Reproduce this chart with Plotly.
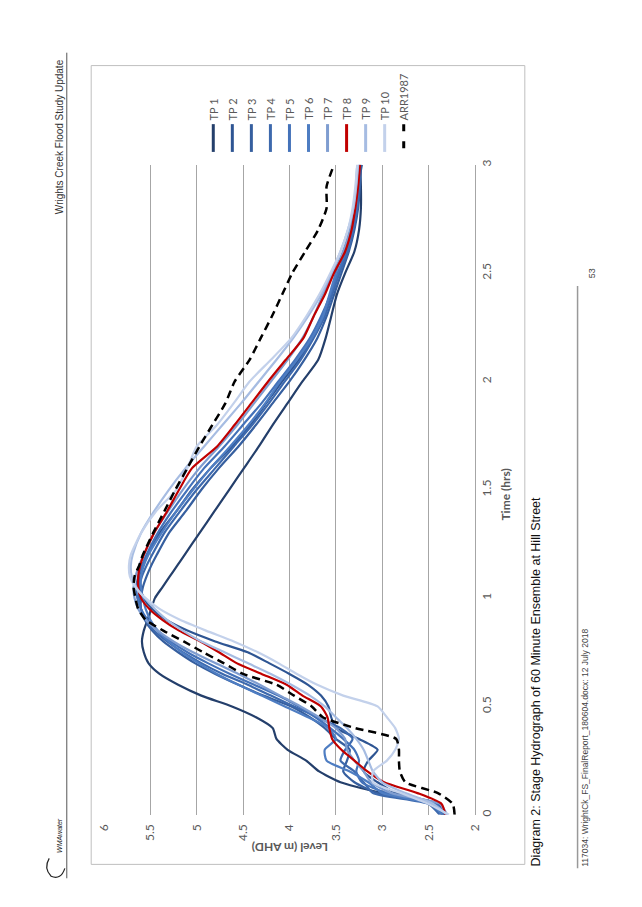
import plotly.graph_objects as go

# ---------------- data ----------------
time_hrs = [0, 0.05, 0.1, 0.15, 0.2, 0.25, 0.3, 0.35, 0.4, 0.45, 0.5, 0.55, 0.6, 0.65,
            0.7, 0.75, 0.8, 0.85, 0.9, 0.95, 1.0, 1.05, 1.1, 1.15, 1.2, 1.3, 1.4, 1.5,
            1.6, 1.7, 1.8, 1.9, 2.0, 2.1, 2.2, 2.3, 2.4, 2.5, 2.6, 2.7, 2.8, 2.9, 3.0]

tp1 = [2.36, 2.42, 3.00, 3.45, 3.68, 3.82, 4.02, 4.14, 4.18, 4.36, 4.62, 4.95, 5.20, 5.40,
       5.52, 5.57, 5.59, 5.57, 5.53, 5.49, 5.45, 5.37, 5.29, 5.21, 5.13, 4.97, 4.81, 4.65,
       4.49, 4.33, 4.18, 4.02, 3.86, 3.69, 3.61, 3.55, 3.49, 3.40, 3.30, 3.25, 3.23, 3.23, 3.24]
tp2 = [2.34, 2.40, 2.85, 3.05, 3.20, 3.15, 3.05, 3.25, 3.50, 3.55, 3.58, 3.66, 3.80, 4.00,
       4.22, 4.45, 4.80, 5.10, 5.33, 5.48, 5.57, 5.61, 5.62, 5.58, 5.53, 5.40, 5.22, 5.05,
       4.85, 4.62, 4.42, 4.25, 4.08, 3.90, 3.75, 3.64, 3.56, 3.47, 3.38, 3.34, 3.31, 3.26, 3.22]
tp3 = [2.33, 2.45, 3.05, 3.30, 3.42, 3.38, 3.35, 3.50, 3.62, 3.78, 3.98, 4.28, 4.55, 4.80,
       5.02, 5.20, 5.36, 5.48, 5.56, 5.60, 5.60, 5.58, 5.54, 5.49, 5.43, 5.30, 5.12, 4.95,
       4.76, 4.55, 4.36, 4.18, 4.00, 3.84, 3.70, 3.60, 3.52, 3.44, 3.36, 3.30, 3.26, 3.24, 3.23]
tp4 = [2.38, 2.50, 3.10, 3.20, 3.30, 3.45, 3.40, 3.32, 3.45, 3.70, 3.95, 4.20, 4.45, 4.72,
       4.95, 5.15, 5.32, 5.46, 5.55, 5.60, 5.62, 5.62, 5.59, 5.54, 5.48, 5.35, 5.18, 5.00,
       4.80, 4.60, 4.40, 4.22, 4.05, 3.88, 3.74, 3.62, 3.54, 3.46, 3.37, 3.31, 3.27, 3.25, 3.24]
tp5 = [2.32, 2.42, 2.95, 3.22, 3.28, 3.25, 3.30, 3.42, 3.56, 3.72, 3.90, 4.12, 4.38, 4.64,
       4.88, 5.10, 5.28, 5.42, 5.53, 5.60, 5.64, 5.65, 5.63, 5.59, 5.54, 5.42, 5.27, 5.10,
       4.92, 4.70, 4.50, 4.30, 4.12, 3.94, 3.78, 3.66, 3.56, 3.48, 3.39, 3.32, 3.28, 3.26, 3.25]
tp6 = [2.35, 2.48, 3.00, 3.15, 3.35, 3.60, 3.62, 3.50, 3.58, 3.80, 4.05, 4.30, 4.55, 4.78,
       4.98, 5.16, 5.30, 5.42, 5.50, 5.55, 5.58, 5.60, 5.60, 5.57, 5.52, 5.38, 5.22, 5.04,
       4.85, 4.64, 4.44, 4.26, 4.10, 3.92, 3.76, 3.64, 3.57, 3.50, 3.42, 3.34, 3.30, 3.28, 3.27]
tp7 = [2.30, 2.38, 2.90, 3.12, 3.20, 3.30, 3.38, 3.40, 3.50, 3.68, 3.88, 4.10, 4.32, 4.55,
       4.80, 5.04, 5.25, 5.42, 5.55, 5.63, 5.67, 5.68, 5.66, 5.62, 5.57, 5.46, 5.31, 5.15,
       4.97, 4.76, 4.56, 4.38, 4.20, 4.02, 3.86, 3.74, 3.64, 3.53, 3.42, 3.35, 3.30, 3.27, 3.25]
tp8 = [2.32, 2.36, 2.62, 2.98, 3.16, 3.30, 3.44, 3.54, 3.57, 3.59, 3.66, 3.86, 4.03, 4.30,
       4.57, 4.76, 4.96, 5.19, 5.37, 5.51, 5.60, 5.63, 5.63, 5.61, 5.57, 5.46, 5.32, 5.19,
       5.05, 4.78, 4.59, 4.41, 4.23, 4.04, 3.85, 3.74, 3.62, 3.52, 3.40, 3.33, 3.29, 3.26, 3.24]
tp9 = [2.30, 2.45, 2.75, 3.00, 3.10, 3.15, 3.20, 3.28, 3.38, 3.50, 3.62, 3.78, 3.98, 4.20,
       4.45, 4.70, 4.95, 5.15, 5.32, 5.45, 5.56, 5.65, 5.70, 5.71, 5.69, 5.60, 5.46, 5.30,
       5.12, 4.92, 4.72, 4.52, 4.33, 4.14, 3.96, 3.80, 3.66, 3.55, 3.45, 3.37, 3.31, 3.28, 3.26]
tp10 = [2.28, 2.50, 2.80, 3.10, 3.10, 2.95, 2.86, 2.82, 2.86, 2.95, 3.05, 3.42, 3.70, 3.92,
        4.12, 4.34, 4.60, 4.90, 5.18, 5.40, 5.55, 5.66, 5.72, 5.73, 5.71, 5.60, 5.44, 5.22,
        5.10, 5.00, 4.78, 4.60, 4.43, 4.20, 3.98, 3.82, 3.68, 3.56, 3.45, 3.37, 3.32, 3.29, 3.27]
arr1987 = [2.22, 2.24, 2.40, 2.75, 2.81, 2.82, 2.82, 2.85, 3.29, 3.64, 3.76, 3.95, 4.14, 4.50,
           4.71, 4.93, 5.14, 5.36, 5.55, 5.63, 5.66, 5.68, 5.67, 5.62, 5.58, 5.47, 5.35, 5.23,
           5.10, 4.97, 4.83, 4.69, 4.59, 4.43, 4.31, 4.19, 4.08, 3.97, 3.83, 3.69, 3.60, 3.60, 3.52]

series_names = ["TP 1", "TP 2", "TP 3", "TP 4", "TP 5", "TP 6", "TP 7", "TP 8", "TP 9", "TP 10"]
series_values = [tp1, tp2, tp3, tp4, tp5, tp6, tp7, tp8, tp9, tp10]
series_colors = ["#243f6b", "#2e5593", "#365f9f", "#3d69ad", "#4472b9", "#4e7dc2",
                 "#7f9dd0", "#c00000", "#a6bce2", "#c3d1eb"]

level_ticks = [2, 2.5, 3, 3.5, 4, 4.5, 5, 5.5, 6]
level_labels = ["2", "2.5", "3", "3.5", "4", "4.5", "5", "5.5", "6"]
time_ticks = [0, 0.5, 1, 1.5, 2, 2.5, 3]
time_labels = ["0", "0.5", "1", "1.5", "2", "2.5", "3"]

# ---------------- figure ----------------
W, H = 642, 907
def px(x):
    return x / W
def py(y):
    return 1 - y / H

fig = go.Figure()
for name, vals, col in zip(series_names, series_values, series_colors):
    fig.add_trace(go.Scatter(x=vals, y=time_hrs, mode="lines", name=name,
                             line=dict(color=col, width=2.2, shape="spline", smoothing=0.6),
                             hoverinfo="skip", showlegend=False))
fig.add_trace(go.Scatter(x=arr1987, y=time_hrs, mode="lines", name="ARR1987",
                         line=dict(color="black", width=2.5, dash="8px,5px",
                                   shape="spline", smoothing=0.6),
                         hoverinfo="skip", showlegend=False))

tick_font = dict(family="Lato", size=12, color="#595959")
fig.update_layout(
    width=W, height=H, autosize=False,
    margin=dict(l=0, r=0, t=0, b=0),
    paper_bgcolor="white", plot_bgcolor="white", showlegend=False,
    xaxis=dict(domain=[px(90), px(470)], range=[6, 2], tickvals=level_ticks,
               ticktext=level_labels, tickangle=-90, showgrid=True, gridcolor="#a6a6a6",
               gridwidth=1, zeroline=False, showline=False, ticks="",
               tickfont=tick_font, ticklabelstandoff=6, anchor="y", fixedrange=True),
    yaxis=dict(domain=[py(808), py(153)], range=[0, 3], side="right", tickvals=time_ticks,
               ticktext=time_labels, tickangle=-90, showgrid=False, zeroline=False,
               showline=True, linecolor="#a6a6a6", linewidth=1, ticks="",
               tickfont=tick_font, ticklabelstandoff=1, anchor="x", fixedrange=True),
)

annotations = []
shapes = []

# axis titles
annotations.append(dict(text="<b>Level (m AHD)</b>", x=px(280), y=py(841), xref="paper", yref="paper",
                        showarrow=False, textangle=180, font=dict(family="Lato", size=12, color="#595959"),
                        xanchor="center", yanchor="middle"))
annotations.append(dict(text="<b>Time (hrs)</b>", x=px(501), y=py(485), xref="paper", yref="paper",
                        showarrow=False, textangle=-90, font=dict(family="Lato", size=12, color="#595959"),
                        xanchor="center", yanchor="middle"))

# custom rotated legend
leg_names = series_names + ["ARR1987"]
leg_colors = series_colors + ["black"]
for i, (nm, col) in enumerate(zip(leg_names, leg_colors)):
    xc = 202 + 19.5 * i
    shapes.append(dict(type="line", xref="paper", yref="paper", x0=px(xc), x1=px(xc),
                       y0=py(112), y1=py(140),
                       line=dict(color=col, width=3, dash="7px,10px" if nm == "ARR1987" else "solid")))
    annotations.append(dict(text=nm, x=px(xc), y=py(110), xref="paper", yref="paper",
                            showarrow=False, textangle=-90,
                            font=dict(family="Lato", size=11, color="#595959"),
                            xanchor="center", yanchor="bottom"))

# chart frame
shapes.append(dict(type="rect", xref="paper", yref="paper", x0=px(77), x1=px(521),
                   y0=py(858), y1=py(53), line=dict(color="#bfbfbf", width=1)))

# page header (rotated page)
annotations.append(dict(text="Wrights Creek Flood Study Update", x=px(44), y=py(44),
                        xref="paper", yref="paper", showarrow=False, textangle=-90,
                        font=dict(family="Liberation Sans", size=10, color="#333333"),
                        xanchor="center", yanchor="top"))
shapes.append(dict(type="line", xref="paper", yref="paper", x0=px(52), x1=px(52),
                   y0=py(40), y1=py(872), line=dict(color="#555555", width=1)))
annotations.append(dict(text="<i>WMAwater</i>", x=px(45), y=py(848),
                        xref="paper", yref="paper", showarrow=False, textangle=-90,
                        font=dict(family="Liberation Sans", size=7, color="#222222"),
                        xanchor="center", yanchor="bottom"))
shapes.append(dict(type="path", xref="paper", yref="paper",
                   path=f"M {px(34)} {py(852)} Q {px(28)} {py(862)} {px(36)} {py(870)} "
                        f"Q {px(46)} {py(874)} {px(50)} {py(862)}",
                   line=dict(color="#222222", width=1.2)))

# caption and footer
annotations.append(dict(text="Diagram 2: Stage Hydrograph of 60 Minute Ensemble at Hill Street",
                        x=px(532), y=py(862), xref="paper", yref="paper", showarrow=False,
                        textangle=-90, font=dict(family="Liberation Sans", size=12.5, color="#111111"),
                        xanchor="center", yanchor="bottom"))
shapes.append(dict(type="line", xref="paper", yref="paper", x0=px(575), x1=px(575),
                   y0=py(275), y1=py(862), line=dict(color="#999999", width=1.5)))
annotations.append(dict(text="117034: WrightCk_FS_FinalReport_180604.docx: 12 July 2018",
                        x=px(583), y=py(862), xref="paper", yref="paper", showarrow=False,
                        textangle=-90, font=dict(family="Liberation Sans", size=8.5, color="#444444"),
                        xanchor="center", yanchor="bottom"))
annotations.append(dict(text="53", x=px(590), y=py(262), xref="paper", yref="paper",
                        showarrow=False, textangle=-90,
                        font=dict(family="Liberation Sans", size=9, color="#444444"),
                        xanchor="center", yanchor="middle"))

fig.update_layout(annotations=annotations, shapes=shapes)
fig.write_html("out.html")
